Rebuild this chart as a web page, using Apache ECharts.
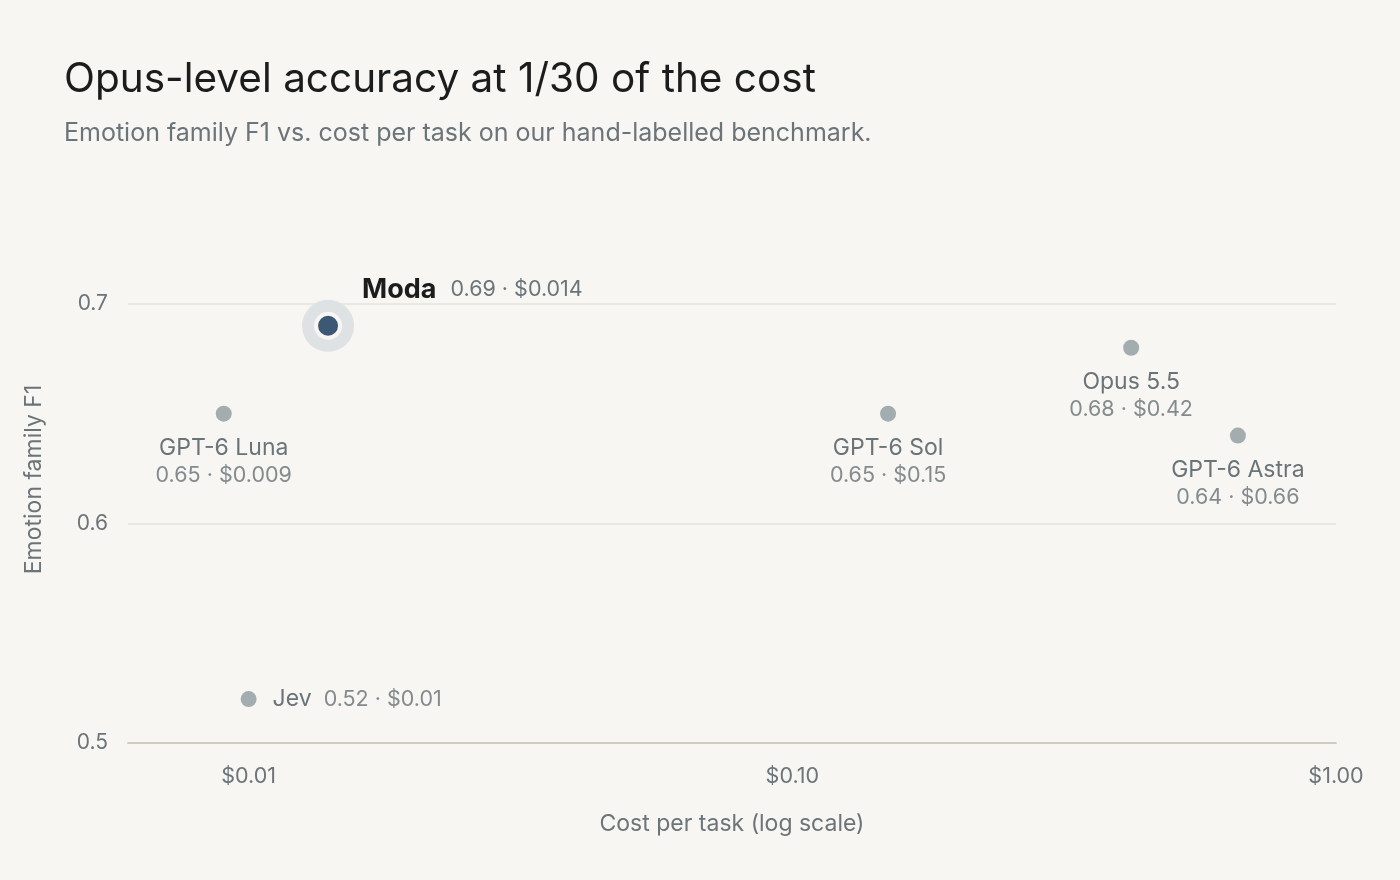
<!DOCTYPE html>
<html>
<head>
    <meta charset="UTF-8">
    <title>Opus-level accuracy at 1/30 of the cost</title>
    <script src="https://cdn.jsdelivr.net/npm/echarts@6/dist/echarts.min.js"></script>
    <style type="text/css">
        html, body, #main {
            height: 100%;
            width: 100%;
            margin: 0;
            padding: 0;
            background: #f7f6f2;
        }
    </style>
</head>
<body>
<div id="main"></div>
<script type="text/javascript">
    // data
    var models = ['Moda', 'GPT-6 Luna', 'Jev', 'GPT-6 Sol', 'Opus 5.5', 'GPT-6 Astra'];
    var costs = [0.014, 0.009, 0.01, 0.15, 0.42, 0.66];
    var f1 = [0.69, 0.65, 0.52, 0.65, 0.68, 0.64];
    var costLabels = ['$0.014', '$0.009', '$0.01', '$0.15', '$0.42', '$0.66'];
    var f1Labels = ['0.69', '0.65', '0.52', '0.65', '0.68', '0.64'];

    var FONT = 'Inter, "Noto Sans", sans-serif';
    var mycharts = echarts.init(document.getElementById('main'));

    var rich = {
        n: {fontFamily: FONT, fontSize: 23, color: '#6a7378', lineHeight: 28},
        v: {fontFamily: FONT, fontSize: 21.5, color: '#838b8f', lineHeight: 28},
        vp: {fontFamily: FONT, fontSize: 21.5, color: '#838b8f', padding: [0, 0, 0, 12]}
    };

    var moda = [[costs[0], f1[0]]];
    var others = [];
    for (var i = 1; i < models.length; i++) {
        var item = {value: [costs[i], f1[i]], idx: i};
        if (models[i] === 'Jev') {
            // Jev sits alone near the bottom, label goes to the right
            item.label = {
                position: 'right',
                distance: 16,
                align: 'left',
                verticalAlign: 'middle'
            };
        }
        others.push(item);
    }

    var option = {
        backgroundColor: '#f7f6f2',
        textStyle: {fontFamily: FONT},
        title: {
            text: 'Opus-level accuracy at 1/30 of the cost',
            subtext: 'Emotion family F1 vs. cost per task on our hand-labelled benchmark.',
            left: 59,
            top: 54,
            itemGap: 21,
            textStyle: {fontFamily: FONT, fontSize: 40.5, fontWeight: 400, color: '#1b1c1c'},
            subtextStyle: {fontFamily: FONT, fontSize: 25, color: '#6b7479'}
        },
        grid: {left: 128, right: 64, top: 216, bottom: 137},
        xAxis: {
            type: 'log',
            logBase: 10,
            min: 0.006,
            max: 1,
            name: 'Cost per task (log scale)',
            nameLocation: 'middle',
            nameGap: 70,
            nameTextStyle: {fontFamily: FONT, fontSize: 23, color: '#6b7479'},
            axisLine: {show: true, lineStyle: {color: '#cfccc2', width: 2}},
            axisTick: {show: false},
            splitLine: {show: false},
            axisLabel: {
                showMinLabel: false,
                margin: 23,
                fontFamily: FONT,
                fontSize: 21.5,
                color: '#6b7479',
                formatter: function (v) { return '$' + v.toFixed(2); }
            }
        },
        yAxis: {
            type: 'value',
            min: 0.5,
            max: 0.74,
            interval: 0.1,
            name: 'Emotion family F1',
            nameLocation: 'middle',
            nameGap: 82,
            nameTextStyle: {fontFamily: FONT, fontSize: 23, color: '#6b7479'},
            axisLine: {show: false},
            axisTick: {show: false},
            splitLine: {show: true, showMaxLine: false, showMinLine: false, lineStyle: {color: '#e4e3de', width: 1.5}},
            axisLabel: {
                showMaxLabel: false,
                margin: 20,
                fontFamily: FONT,
                fontSize: 21,
                color: '#6b7479',
                formatter: function (v) { return v.toFixed(1); }
            }
        },
        series: [
            {
                type: 'scatter',
                data: others,
                symbolSize: 16,
                itemStyle: {color: '#a3adb0', opacity: 1},
                label: {
                    show: true,
                    position: 'bottom',
                    distance: 12,
                    formatter: function (p) {
                        var i = p.data.idx;
                        if (models[i] === 'Jev') {
                            return '{n|' + models[i] + '}{vp|' + f1Labels[i] + ' · ' + costLabels[i] + '}';
                        }
                        return '{n|' + models[i] + '}\n{v|' + f1Labels[i] + ' · ' + costLabels[i] + '}';
                    },
                    rich: rich
                },
                z: 3
            },
            {
                // halo behind Moda
                type: 'scatter',
                data: moda,
                symbolSize: 52,
                itemStyle: {color: '#dee2e4', opacity: 1},
                silent: true,
                z: 2
            },
            {
                type: 'scatter',
                data: moda,
                symbolSize: 24,
                itemStyle: {color: '#3d5874', borderColor: '#f7f6f2', borderWidth: 4, opacity: 1},
                label: {
                    show: true,
                    position: 'right',
                    distance: 20,
                    offset: [0, -36],
                    formatter: '{n|Moda}{v|' + f1Labels[0] + ' · ' + costLabels[0] + '}',
                    rich: {
                        n: {fontFamily: FONT, fontSize: 27, fontWeight: 'bold', color: '#1b1c1c'},
                        v: {fontFamily: FONT, fontSize: 21.5, color: '#6b7479', padding: [0, 0, 0, 14]}
                    }
                },
                z: 4
            }
        ]
    };

    mycharts.setOption(option);
</script>
</body>
</html>
